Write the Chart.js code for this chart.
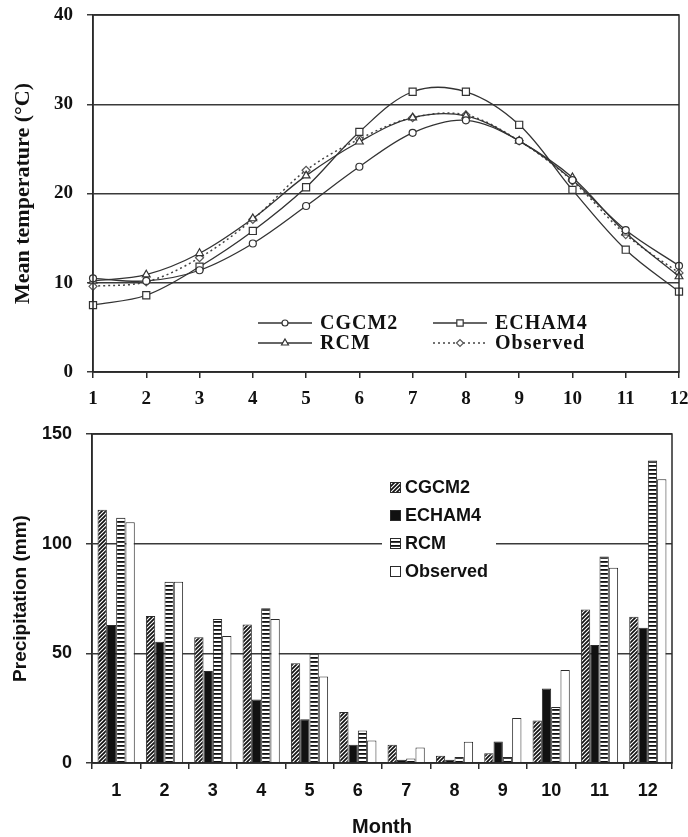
<!DOCTYPE html>
<html>
<head>
<meta charset="utf-8">
<script src="https://cdn.jsdelivr.net/npm/chart.js@4/dist/chart.umd.min.js"></script>
<style>
  body { margin: 0; background: #fff; }
  canvas { display: block; }
</style>
</head>
<body>
<canvas id="tempChart" width="688" height="405"></canvas>
<canvas id="rainChart" width="688" height="432"></canvas>
<script>
// months (shared by both charts)
const months = ['1', '2', '3', '4', '5', '6', '7', '8', '9', '10', '11', '12'];

// mean temperature (C)
const tempCGCM2 = [10.5, 10.2, 11.4, 14.4, 18.6, 23.0, 26.8, 28.2, 25.9, 21.5, 15.9, 11.9];
const tempECHAM4 = [7.5, 8.6, 11.8, 15.8, 20.7, 26.9, 31.4, 31.4, 27.7, 20.4, 13.7, 9.0];
const tempRCM = [10.2, 10.9, 13.3, 17.2, 22.0, 25.8, 28.5, 28.7, 25.9, 21.8, 15.6, 10.7];
const tempObserved = [9.6, 10.1, 12.8, 17.1, 22.6, 26.1, 28.5, 28.8, 25.9, 21.4, 15.4, 11.1];
const tempTicks = [0, 10, 20, 30, 40];

// precipitation (mm)
const rainCGCM2 = [115.5, 67, 57.3, 63.2, 45.5, 23.3, 8.3, 3.3, 4.5, 19.4, 70, 66.7];
const rainECHAM4 = [62.9, 55.3, 42, 29, 20, 8.3, 1.5, 1.5, 9.8, 34, 53.8, 61.7];
const rainRCM = [111.8, 82.6, 65.6, 70.6, 50, 14.8, 2.1, 2.7, 2.7, 25.5, 94.2, 137.9];
const rainObserved = [109.8, 82.6, 57.9, 65.6, 39.4, 10.3, 7.1, 9.7, 20.5, 42.4, 89, 129.4];
const rainTicks = [0, 50, 100, 150];

const ink = '#2a2a2a';
const serif = '"Liberation Serif", "Times New Roman", serif';
const sans = '"Liberation Sans", Arial, sans-serif';

// kotak garis di sekeliling area plot
const frame = {
  id: 'frame',
  afterDatasetsDraw(chart) {
    const a = chart.chartArea;
    const ctx = chart.ctx;
    ctx.save();
    ctx.strokeStyle = ink;
    ctx.lineWidth = 1.5;
    ctx.strokeRect(a.left, a.top, a.right - a.left, a.bottom - a.top);
    ctx.restore();
  }
};

// legenda garis (2 kolom) di dalam area plot
const lineLegend = {
  id: 'lineLegend',
  afterDatasetsDraw(chart, args, opts) {
    const ctx = chart.ctx;
    chart.data.datasets.forEach((ds, i) => {
      const p = opts.items[i];
      ctx.save();
      ctx.strokeStyle = ds.borderColor;
      ctx.lineWidth = ds.borderWidth;
      ctx.setLineDash(ds.borderDash || []);
      ctx.beginPath();
      ctx.moveTo(p.x, p.y);
      ctx.lineTo(p.x + opts.lineLength, p.y);
      ctx.stroke();
      ctx.setLineDash([]);
      ctx.fillStyle = ds.pointBackgroundColor;
      ctx.strokeStyle = ds.pointBorderColor;
      ctx.lineWidth = ds.pointBorderWidth;
      Chart.helpers.drawPoint(ctx, {
        pointStyle: ds.pointStyle, radius: ds.pointRadius - 0.5,
        borderWidth: ds.pointBorderWidth, rotation: 0
      }, p.x + opts.lineLength / 2, p.y);
      ctx.fillStyle = '#111';
      ctx.font = opts.font;
      ctx.letterSpacing = '1px';
      ctx.textBaseline = 'middle';
      ctx.fillText(ds.label, p.x + opts.lineLength + 8, p.y + 1);
      ctx.restore();
    });
  }
};

// legenda batang dengan latar putih
const barLegend = {
  id: 'barLegend',
  afterDatasetsDraw(chart, args, opts) {
    const ctx = chart.ctx;
    ctx.save();
    ctx.fillStyle = '#fff';
    ctx.fillRect(opts.x - 8, opts.y - 16, 114, opts.step * 4 + 4);
    chart.data.datasets.forEach((ds, i) => {
      const y = opts.y + i * opts.step;
      ctx.fillStyle = ds.backgroundColor;
      ctx.fillRect(opts.x, y - 5, 11, 11);
      ctx.strokeStyle = ink;
      ctx.lineWidth = 1;
      ctx.strokeRect(opts.x + 0.5, y - 4.5, 10, 10);
      ctx.fillStyle = '#111';
      ctx.font = 'bold 18px ' + sans;
      ctx.textBaseline = 'middle';
      ctx.fillText(ds.label, opts.x + 15, y + 1);
    });
    ctx.restore();
  }
};

// ---------------- grafik suhu ----------------
new Chart(document.getElementById('tempChart'), {
  type: 'line',
  data: {
    labels: months,
    datasets: [{
      label: 'CGCM2', data: tempCGCM2,
      borderColor: '#333', borderWidth: 1.3, tension: 0.35, clip: false,
      pointStyle: 'circle', pointRadius: 3.5,
      pointBackgroundColor: '#fff', pointBorderColor: '#333', pointBorderWidth: 1.2
    }, {
      label: 'ECHAM4', data: tempECHAM4,
      borderColor: '#333', borderWidth: 1.3, tension: 0.35, clip: false,
      pointStyle: 'rect', pointRadius: 5,
      pointBackgroundColor: '#fff', pointBorderColor: '#333', pointBorderWidth: 1.2
    }, {
      label: 'RCM', data: tempRCM,
      borderColor: '#333', borderWidth: 1.3, tension: 0.35, clip: false,
      pointStyle: 'triangle', pointRadius: 4.5,
      pointBackgroundColor: '#fff', pointBorderColor: '#333', pointBorderWidth: 1.2
    }, {
      label: 'Observed', data: tempObserved,
      borderColor: '#444', borderWidth: 1.5, borderDash: [2, 3], tension: 0.35, clip: false,
      pointStyle: 'rectRot', pointRadius: 4,
      pointBackgroundColor: '#fff', pointBorderColor: '#555', pointBorderWidth: 1.2
    }]
  },
  options: {
    responsive: false,
    devicePixelRatio: 1,
    animation: false,
    layout: { padding: { top: 15, right: 9, left: 0, bottom: 0 } },
    plugins: {
      legend: { display: false },
      tooltip: { enabled: false },
      lineLegend: {
        lineLength: 54,
        font: 'bold 20px ' + serif,
        items: [{ x: 258, y: 323 }, { x: 433, y: 323 }, { x: 258, y: 343 }, { x: 433, y: 343 }]
      }
    },
    scales: {
      x: {
        offset: false,
        grid: { drawOnChartArea: false, tickLength: 6, color: ink, lineWidth: 1.5 },
        border: { color: ink, width: 1.5 },
        ticks: { color: '#111', padding: 10, autoSkip: false, maxRotation: 0,
                 font: { family: serif, size: 19, weight: 'bold' } },
        afterFit: s => { s.height = 33; s.paddingLeft = 0; s.paddingRight = 0; }
      },
      y: {
        min: tempTicks[0], max: tempTicks[tempTicks.length - 1],
        grid: { tickLength: 6, color: '#3a3a3a', lineWidth: 1.5 },
        border: { color: ink, width: 1.5 },
        ticks: { stepSize: tempTicks[1] - tempTicks[0], color: '#111', padding: 14,
                 font: { family: serif, size: 19, weight: 'bold' } },
        title: { display: true, text: 'Mean temperature (°C)', color: '#111',
                 padding: { top: 10, bottom: 0 },
                 font: { family: serif, size: 22, weight: 'bold' } },
        afterFit: s => { s.width = 93; s.paddingTop = 0; s.paddingBottom = 0; }
      }
    }
  },
  plugins: [frame, lineLegend]
});

// ---------------- grafik curah hujan ----------------
const rainCtx = document.getElementById('rainChart').getContext('2d');

function makePattern(kind) {
  const s = 4;
  const c = document.createElement('canvas');
  c.width = s; c.height = s;
  const g = c.getContext('2d');
  g.fillStyle = '#fff';
  g.fillRect(0, 0, s, s);
  g.strokeStyle = '#111';
  g.fillStyle = '#111';
  if (kind === 'diag') {
    g.lineWidth = 1.7;
    g.beginPath();
    g.moveTo(-1, s + 1); g.lineTo(s + 1, -1);
    g.moveTo(-1, 1); g.lineTo(1, -1);
    g.moveTo(s - 1, s + 1); g.lineTo(s + 1, s - 1);
    g.stroke();
  } else {
    g.fillRect(0, 0, s, 1.8);
  }
  return rainCtx.createPattern(c, 'repeat');
}

new Chart(rainCtx, {
  type: 'bar',
  data: {
    labels: months,
    datasets: [{
      label: 'CGCM2', data: rainCGCM2, backgroundColor: makePattern('diag'),
      borderColor: ink, borderWidth: 1
    }, {
      label: 'ECHAM4', data: rainECHAM4, backgroundColor: '#111',
      borderColor: ink, borderWidth: 1
    }, {
      label: 'RCM', data: rainRCM, backgroundColor: makePattern('horiz'),
      borderColor: ink, borderWidth: 1
    }, {
      label: 'Observed', data: rainObserved, backgroundColor: '#fff',
      borderColor: ink, borderWidth: 1
    }]
  },
  options: {
    responsive: false,
    devicePixelRatio: 1,
    animation: false,
    categoryPercentage: 0.77,
    barPercentage: 1.0,
    layout: { padding: { top: 29, right: 16, left: 0, bottom: 0 } },
    plugins: {
      legend: { display: false },
      tooltip: { enabled: false },
      barLegend: { x: 390, y: 82, step: 28 }
    },
    scales: {
      x: {
        grid: { offset: true, drawOnChartArea: false, tickLength: 6, color: ink, lineWidth: 1.5 },
        border: { color: ink, width: 1.5 },
        ticks: { color: '#111', padding: 11, autoSkip: false, maxRotation: 0,
                 font: { family: sans, size: 18, weight: 'bold' } },
        title: { display: true, text: 'Month', color: '#111', padding: { top: 0, bottom: -2 },
                 font: { family: sans, size: 20, weight: 'bold' } },
        afterFit: s => { s.height = 74; s.paddingLeft = 0; s.paddingRight = 0; }
      },
      y: {
        min: rainTicks[0], max: rainTicks[rainTicks.length - 1],
        grid: { tickLength: 6, color: '#3a3a3a', lineWidth: 1.5 },
        border: { color: ink, width: 1.5 },
        ticks: { stepSize: rainTicks[1] - rainTicks[0], color: '#111', padding: 14,
                 font: { family: sans, size: 18, weight: 'bold' } },
        title: { display: true, text: 'Precipitation (mm)', color: '#111',
                 padding: { top: 9, bottom: 0 },
                 font: { family: sans, size: 19, weight: 'bold' } },
        afterFit: s => { s.width = 92; s.paddingTop = 0; s.paddingBottom = 0; }
      }
    }
  },
  plugins: [frame, barLegend]
});
</script>
</body>
</html>
